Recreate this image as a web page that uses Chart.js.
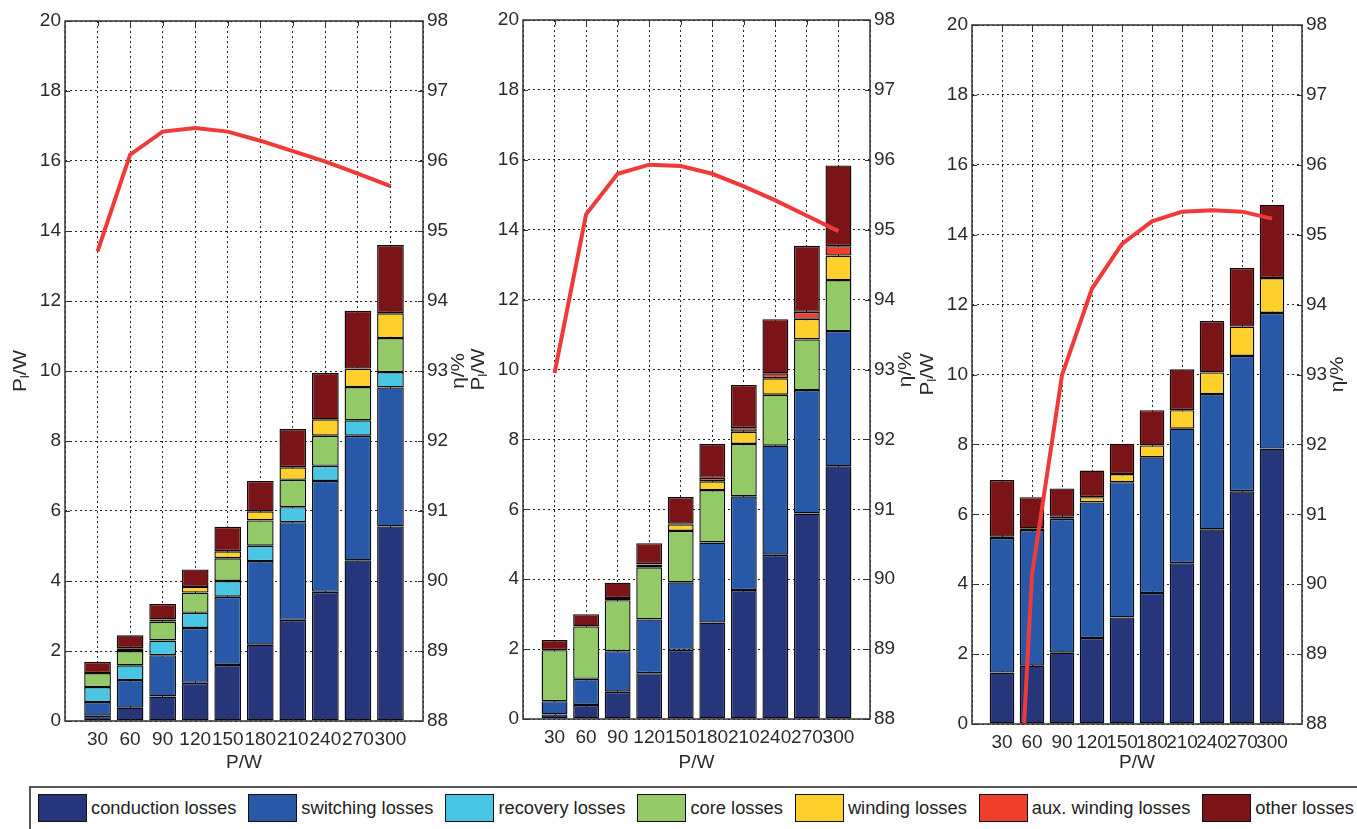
<!DOCTYPE html>
<html>
<head>
<meta charset="utf-8">
<script src="https://cdn.jsdelivr.net/npm/chart.js@4.4.1/dist/chart.umd.min.js"></script>
<style>
  html, body { margin:0; padding:0; background:#fff; width:1357px; height:829px; overflow:hidden; position:relative;
    font-family:'Liberation Sans',Arial,sans-serif; }
  canvas { position:absolute; top:0; }
  #legend { position:absolute; left:29px; top:786px; width:1340px; height:50px; border:2px solid #555;
    box-sizing:border-box; display:flex; align-items:center; padding-left:7px; padding-bottom:6px; }
  .item { display:flex; align-items:center; margin-right:12px; }
  .sw { width:47px; height:26px; border:1px solid #111; }
  .lbl { font-size:18.3px; color:#222; margin-left:4px; white-space:nowrap; }
</style>
</head>
<body>
<canvas id="c1" width="473" height="780" style="left:5px"></canvas>
<canvas id="c2" width="462" height="780" style="left:463px"></canvas>
<canvas id="c3" width="445" height="780" style="left:912px"></canvas>
<div id="legend"></div>
<script>
// ---------- data ----------
const powers = [30, 60, 90, 120, 150, 180, 210, 240, 270, 300];
const seriesNames = ['conduction losses', 'switching losses', 'recovery losses', 'core losses',
                     'winding losses', 'aux. winding losses', 'other losses'];
const seriesColors = ['#27367a', '#2759a8', '#48c6e3', '#93c966', '#ffcf2b', '#ee3f2c', '#7a1417'];

// panel 1
const p1Conduction = [0.15, 0.38, 0.70, 1.09, 1.60, 2.18, 2.89, 3.69, 4.59, 5.56];
const p1Switching  = [0.39, 0.79, 1.18, 1.57, 1.95, 2.39, 2.79, 3.17, 3.56, 3.97];
const p1Recovery   = [0.43, 0.42, 0.42, 0.43, 0.45, 0.44, 0.43, 0.43, 0.44, 0.44];
const p1Core       = [0.40, 0.41, 0.54, 0.58, 0.65, 0.72, 0.78, 0.86, 0.95, 0.97];
const p1Winding    = [0.00, 0.08, 0.06, 0.16, 0.20, 0.26, 0.36, 0.47, 0.53, 0.71];
const p1Aux        = [0, 0, 0, 0, 0, 0, 0, 0, 0, 0];
const p1Other      = [0.32, 0.37, 0.44, 0.50, 0.70, 0.87, 1.09, 1.33, 1.65, 1.95];
const p1Efficiency = [94.71, 96.09, 96.42, 96.47, 96.42, 96.29, 96.14, 95.99, 95.82, 95.64];

// panel 2
const p2Conduction = [0.13, 0.40, 0.78, 1.31, 1.98, 2.76, 3.69, 4.70, 5.88, 7.23];
const p2Switching  = [0.38, 0.75, 1.16, 1.54, 1.93, 2.29, 2.68, 3.12, 3.53, 3.87];
const p2Recovery   = [0, 0, 0, 0, 0, 0, 0, 0, 0, 0];
const p2Core       = [1.46, 1.50, 1.46, 1.49, 1.47, 1.50, 1.50, 1.46, 1.45, 1.46];
const p2Winding    = [0.00, 0.00, 0.06, 0.07, 0.19, 0.25, 0.35, 0.47, 0.59, 0.70];
const p2Aux        = [0.00, 0.00, 0.00, 0.02, 0.02, 0.10, 0.10, 0.14, 0.20, 0.27];
const p2Other      = [0.29, 0.35, 0.44, 0.60, 0.76, 0.97, 1.24, 1.55, 1.89, 2.31];
const p2Efficiency = [92.95, 95.22, 95.80, 95.93, 95.91, 95.80, 95.62, 95.42, 95.20, 94.98];

// panel 3
const p3Conduction = [1.47, 1.67, 2.04, 2.46, 3.05, 3.75, 4.60, 5.57, 6.66, 7.88];
const p3Switching  = [3.85, 3.88, 3.83, 3.88, 3.87, 3.88, 3.85, 3.87, 3.87, 3.88];
const p3Recovery   = [0, 0, 0, 0, 0, 0, 0, 0, 0, 0];
const p3Core       = [0, 0, 0, 0, 0, 0, 0, 0, 0, 0];
const p3Winding    = [0.04, 0.05, 0.06, 0.15, 0.23, 0.34, 0.53, 0.62, 0.84, 1.00];
const p3Aux        = [0, 0, 0, 0, 0, 0, 0, 0, 0, 0];
const p3Other      = [1.62, 0.89, 0.81, 0.76, 0.87, 1.01, 1.17, 1.47, 1.68, 2.10];
const p3Efficiency = [82.0, 90.14, 92.99, 94.23, 94.87, 95.19, 95.33, 95.35, 95.33, 95.23];

// axis ranges
const lossTicks = { min: 0, max: 20, step: 2 };
const effTicks  = { min: 88, max: 98, step: 1 };

// ---------- drawing ----------
const FONT = "'Liberation Sans',Arial,sans-serif";
const TXT = '#2a2a2a';
const xLabels = [''].concat(powers.map(String), ['']);   // one empty slot each side of the axis
const pad = arr => [null].concat(arr, [null]);

const boxPlugin = {
  id: 'axbox',
  afterDraw(chart) {
    const { ctx, chartArea: a, scales } = chart;
    ctx.save();
    ctx.strokeStyle = '#333';
    ctx.lineWidth = 1;
    // inward tick marks
    ctx.beginPath();
    scales.y.ticks.forEach(t => {
      const py = Math.round(scales.y.getPixelForValue(t.value)) + 0.5;
      ctx.moveTo(a.left, py); ctx.lineTo(a.left + 5, py);
    });
    scales.y2.ticks.forEach(t => {
      const py = Math.round(scales.y2.getPixelForValue(t.value)) + 0.5;
      ctx.moveTo(a.right, py); ctx.lineTo(a.right - 5, py);
    });
    powers.forEach((p, i) => {
      const px = Math.round(scales.x.getPixelForValue(i + 1)) + 0.5;
      ctx.moveTo(px, a.bottom); ctx.lineTo(px, a.bottom - 5);
      ctx.moveTo(px, a.top); ctx.lineTo(px, a.top + 5);
    });
    ctx.stroke();
    ctx.lineWidth = 1.5;
    ctx.strokeRect(a.left, a.top, a.right - a.left, a.bottom - a.top);
    ctx.restore();
  }
};

function drawRotated(ctx, x, y, parts) {
  ctx.save();
  ctx.translate(x, y);
  ctx.rotate(-Math.PI / 2);
  ctx.scale(1.15, 1);
  ctx.textBaseline = 'middle';
  ctx.textAlign = 'left';
  let total = 0;
  parts.forEach(p => { ctx.font = p.size + 'px ' + FONT; total += ctx.measureText(p.t).width; });
  let cx = -total / 2;
  parts.forEach(p => {
    ctx.font = p.size + 'px ' + FONT;
    ctx.fillText(p.t, cx, p.dy);
    cx += ctx.measureText(p.t).width;
  });
  ctx.restore();
}

const titlePlugin = {
  id: 'ytitles',
  afterDraw(chart) {
    const { ctx, chartArea: a } = chart;
    const cy = (a.top + a.bottom) / 2;
    ctx.save();
    ctx.fillStyle = TXT;
    drawRotated(ctx, a.left - 44, cy, [{ t: 'P', size: 18, dy: 0 }, { t: 'l', size: 12, dy: 5 }, { t: '/W', size: 18, dy: 0 }]);
    drawRotated(ctx, a.right + 36, cy, [{ t: 'η/%', size: 18, dy: 0 }]);
    ctx.restore();
  }
};

function makePanel(id, series, eff, geom) {
  const canvas = document.getElementById(id);
  const H = canvas.height;
  const datasets = series.map((vals, i) => ({
    type: 'bar',
    label: seriesNames[i],
    data: pad(vals),
    backgroundColor: seriesColors[i],
    borderColor: '#0a0a0a',
    borderWidth: 1.4,
    borderSkipped: false,
    yAxisID: 'y',
    order: 1,
    barPercentage: 0.82,
    categoryPercentage: 1
  }));
  datasets.push({
    type: 'line',
    label: 'efficiency',
    data: pad(eff),
    borderColor: '#f03a3a',
    borderWidth: 4,
    pointRadius: 0,
    tension: 0,
    fill: false,
    clip: 0,
    yAxisID: 'y2',
    order: 0
  });
  const tickFont = { family: FONT, size: 19 };
  return new Chart(canvas, {
    type: 'bar',
    data: { labels: xLabels, datasets },
    options: {
      responsive: false,
      animation: false,
      devicePixelRatio: 1,
      layout: { padding: { top: geom.top, bottom: 0, left: 0, right: 0 } },
      plugins: { legend: { display: false }, tooltip: { enabled: false } },
      scales: {
        x: {
          stacked: true,
          offset: false,
          z: 1,
          grid: { offset: false, color: 'rgba(0,0,0,0.85)', lineWidth: 1, drawTicks: false },
          border: { display: false, dash: [2, 3] },
          ticks: { autoSkip: false, maxRotation: 0, minRotation: 0, padding: 7, font: tickFont, color: TXT },
          title: { display: true, text: 'P/W', font: tickFont, color: TXT, padding: { top: 0, bottom: 6 } },
          afterFit(s) { s.height = H - geom.bottom; }
        },
        y: {
          stacked: true,
          position: 'left',
          min: lossTicks.min, max: lossTicks.max,
          z: 1,
          ticks: { stepSize: lossTicks.step, padding: 4, font: tickFont, color: TXT },
          grid: { color: 'rgba(0,0,0,0.85)', lineWidth: 1, drawTicks: false },
          border: { display: false, dash: [2, 3] },
          afterFit(s) { s.width = 60; }
        },
        y2: {
          position: 'right',
          min: effTicks.min, max: effTicks.max,
          ticks: { stepSize: effTicks.step, padding: 4, font: tickFont, color: TXT },
          grid: { display: false, drawTicks: false },
          border: { display: false },
          afterFit(s) { s.width = 55; }
        }
      }
    },
    plugins: [boxPlugin, titlePlugin]
  });
}

makePanel('c1', [p1Conduction, p1Switching, p1Recovery, p1Core, p1Winding, p1Aux, p1Other], p1Efficiency, { top: 21, bottom: 721 });
makePanel('c2', [p2Conduction, p2Switching, p2Recovery, p2Core, p2Winding, p2Aux, p2Other], p2Efficiency, { top: 20, bottom: 719 });
makePanel('c3', [p3Conduction, p3Switching, p3Recovery, p3Core, p3Winding, p3Aux, p3Other], p3Efficiency, { top: 25, bottom: 724 });

// legend
const legend = document.getElementById('legend');
seriesNames.forEach((name, i) => {
  const item = document.createElement('div');
  item.className = 'item';
  const sw = document.createElement('div');
  sw.className = 'sw';
  sw.style.background = seriesColors[i];
  const lbl = document.createElement('span');
  lbl.className = 'lbl';
  lbl.textContent = name;
  item.appendChild(sw);
  item.appendChild(lbl);
  legend.appendChild(item);
});
</script>
</body>
</html>
